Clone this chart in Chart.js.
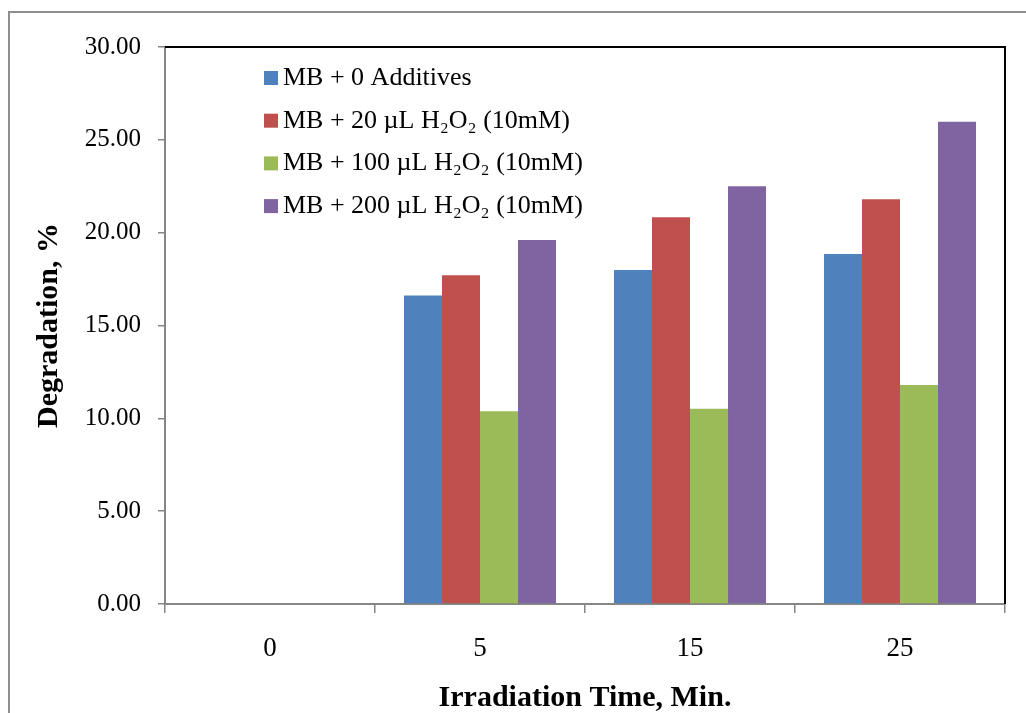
<!DOCTYPE html>
<html>
<head>
<meta charset="utf-8">
<script src="https://cdn.jsdelivr.net/npm/chart.js"></script>
<style>
    body { margin: 0; background: #fff; overflow: hidden; }
</style>
</head>
<body>
<canvas id="myBarChart" width="1026" height="713"></canvas>
<script>
var arrLabels = ['0', '5', '15', '25'];
var arrSeriesNames = ['MB + 0 Additives', 'MB + 20 µL H₂O₂ (10mM)', 'MB + 100 µL H₂O₂ (10mM)', 'MB + 200 µL H₂O₂ (10mM)'];
var arrNoAdditive = [0, 16.62, 17.99, 18.85];
var arrH2O2_20 = [0, 17.70, 20.83, 21.80];
var arrH2O2_100 = [0, 10.38, 10.52, 11.80];
var arrH2O2_200 = [0, 19.60, 22.50, 25.97];
var arrYTicks = [0, 5, 10, 15, 20, 25, 30];

Chart.defaults.font.family = '"Liberation Serif", "Times New Roman", serif';
Chart.defaults.color = '#000';

// frame around the figure, black top/right border of plot area, legend inside plot
var chartDecor = {
    id: 'chartDecor',
    beforeDraw: function (chart) {
        var ctx = chart.ctx;
        ctx.save();
        ctx.strokeStyle = '#8e8e8e';
        ctx.lineWidth = 2;
        ctx.beginPath();
        ctx.moveTo(9, 760);
        ctx.lineTo(9, 12);
        ctx.lineTo(1060, 12);
        ctx.stroke();
        ctx.restore();
    },
    afterDraw: function (chart) {
        var ctx = chart.ctx;
        var area = chart.chartArea;
        ctx.save();
        ctx.strokeStyle = '#000';
        ctx.lineWidth = 2;
        ctx.beginPath();
        ctx.moveTo(area.left, area.top);
        ctx.lineTo(area.right, area.top);
        ctx.lineTo(area.right, area.bottom);
        ctx.stroke();

        ctx.font = '26px "Liberation Serif"';
        ctx.textBaseline = 'middle';
        ctx.textAlign = 'left';
        chart.data.datasets.forEach(function (ds, i) {
            var y = area.top + 31 + i * 42.7;
            ctx.fillStyle = ds.backgroundColor;
            ctx.fillRect(area.left + 99, y - 7, 14, 14);
            ctx.fillStyle = '#000';
            ctx.fillText(ds.label, area.left + 118, y);
        });
        ctx.restore();
    }
};

function createChart() {
    var arrSeries = [arrNoAdditive, arrH2O2_20, arrH2O2_100, arrH2O2_200];
    var arrFill = ['#4F81BD', '#C0504D', '#9BBB59', '#8064A2'];
    var data = {
        labels: arrLabels,
        datasets: arrSeries.map(function (arrValues, i) {
            return {
                label: arrSeriesNames[i],
                data: arrValues,
                backgroundColor: arrFill[i],
                borderWidth: 0,
                barPercentage: 1,
                categoryPercentage: 0.724
            };
        })
    };
    var ctx = document.getElementById('myBarChart');
    return new Chart(ctx, {
        type: 'bar',
        data: data,
        plugins: [chartDecor],
        options: {
            responsive: false,
            animation: false,
            layout: { padding: { top: 47, right: 21, left: 0, bottom: 0 } },
            plugins: {
                legend: { display: false },
                tooltip: { enabled: false }
            },
            scales: {
                x: {
                    grid: { drawOnChartArea: false, drawTicks: true, tickLength: 9, color: '#868686', lineWidth: 1.5, offset: true },
                    border: { color: '#868686', width: 2 },
                    ticks: { font: { size: 27 }, padding: 20 },
                    title: {
                        display: true,
                        text: 'Irradiation Time, Min.',
                        font: { size: 30, weight: 'bold', lineHeight: 1 },
                        padding: { top: 0, bottom: 0 }
                    },
                    afterFit: function (scale) { scale.height = 109; }
                },
                y: {
                    min: 0,
                    max: 30,
                    afterBuildTicks: function (scale) {
                        scale.ticks = arrYTicks.map(function (v) { return { value: v }; });
                    },
                    grid: { drawOnChartArea: false, tickLength: 7, color: '#868686', lineWidth: 1.5 },
                    border: { color: '#868686', width: 2 },
                    ticks: {
                        font: { size: 25 },
                        padding: 17,
                        callback: function (v) { return Number(v).toFixed(2); }
                    },
                    title: {
                        display: true,
                        text: 'Degradation, %',
                        font: { size: 30, weight: 'bold', lineHeight: 1 },
                        padding: { top: 34, bottom: 0 }
                    },
                    afterFit: function (scale) { scale.width = 165; }
                }
            }
        }
    });
}

createChart();
</script>
</body>
</html>
